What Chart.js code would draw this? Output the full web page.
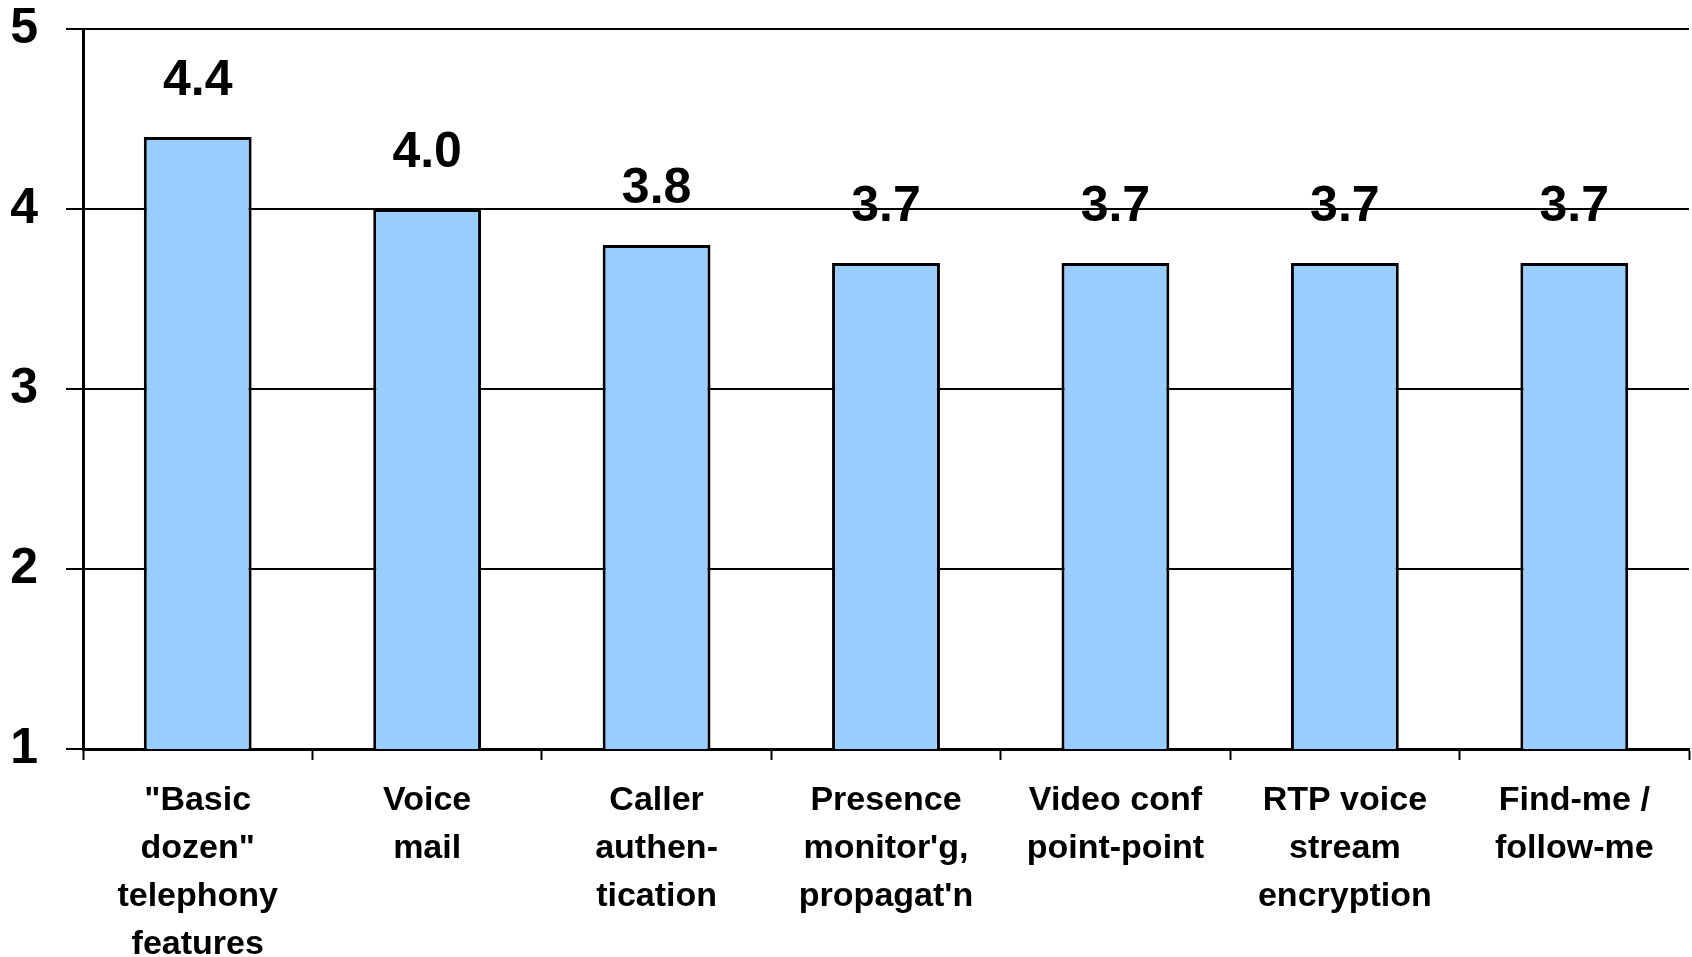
<!DOCTYPE html>
<html>
<head>
<meta charset="utf-8">
<script src="https://cdn.jsdelivr.net/npm/chart.js@4/dist/chart.umd.min.js"></script>
<style>
  html, body { margin: 0; padding: 0; background: #fff; overflow: hidden; }
  canvas { display: block; }
</style>
</head>
<body>
<canvas id="grafico" width="1692" height="957"></canvas>
<script>
// data
const categorias = [
    ['"Basic', 'dozen"', 'telephony', 'features'],
    ['Voice', 'mail'],
    ['Caller', 'authen-', 'tication'],
    ['Presence', "monitor'g,", "propagat'n"],
    ['Video conf', 'point-point'],
    ['RTP voice', 'stream', 'encryption'],
    ['Find-me /', 'follow-me']
];
const valores = [4.4, 4.0, 3.8, 3.7, 3.7, 3.7, 3.7];
const ticksY = [1, 2, 3, 4, 5];

const FUENTE = '"Liberation Sans", Arial, sans-serif';

// ── etiquetas de valor encima de cada barra ──
const etiquetasBarras = {
    id: 'etiquetasBarras',
    afterDatasetsDraw(chart) {
        const ctx = chart.ctx;
        const meta = chart.getDatasetMeta(0);
        ctx.save();
        ctx.font = 'bold 50px ' + FUENTE;
        ctx.fillStyle = '#000';
        ctx.textAlign = 'center';
        ctx.textBaseline = 'middle';
        meta.data.forEach((bar, i) => {
            ctx.fillText(valores[i].toFixed(1), bar.x, bar.y - 56);
        });
        ctx.restore();
    }
};

new Chart(document.getElementById('grafico').getContext('2d'), {
    type: 'bar',
    data: {
        labels: categorias,
        datasets: [{
            data: valores,
            backgroundColor: '#99CCFF',
            borderColor: '#000000',
            borderWidth: 3,
            borderSkipped: false,
            categoryPercentage: 1,
            barPercentage: 0.47
        }]
    },
    options: {
        responsive: false,
        animation: false,
        devicePixelRatio: 1,
        layout: { padding: { left: 10, right: 3, top: 29, bottom: 0 } },
        plugins: {
            legend: { display: false },
            tooltip: { enabled: false }
        },
        scales: {
            x: {
                grid: {
                    display: true,
                    drawOnChartArea: false,
                    drawTicks: true,
                    tickLength: 11,
                    tickWidth: 2,
                    tickColor: '#000',
                    offset: true
                },
                border: { display: true, color: '#000', width: 3 },
                ticks: {
                    color: '#000',
                    padding: 17,
                    maxRotation: 0,
                    autoSkip: false,
                    font: { family: FUENTE, size: 34, weight: 'bold', lineHeight: 1.41 }
                },
                afterFit: (scale) => { scale.height = 208; }
            },
            y: {
                min: ticksY[0],
                max: ticksY[ticksY.length - 1],
                afterBuildTicks: (scale) => { scale.ticks = ticksY.map(v => ({ value: v })); },
                afterFit: (scale) => {
                    scale.width = 73;
                    scale.paddingTop = 0;
                },
                grid: {
                    color: '#000',
                    lineWidth: 2,
                    tickLength: 17,
                    tickColor: '#000'
                },
                border: { display: true, color: '#000', width: 3 },
                ticks: {
                    color: '#000',
                    padding: 28,
                    font: { family: FUENTE, size: 50, weight: 'bold' }
                }
            }
        }
    },
    plugins: [etiquetasBarras]
});
</script>
</body>
</html>
